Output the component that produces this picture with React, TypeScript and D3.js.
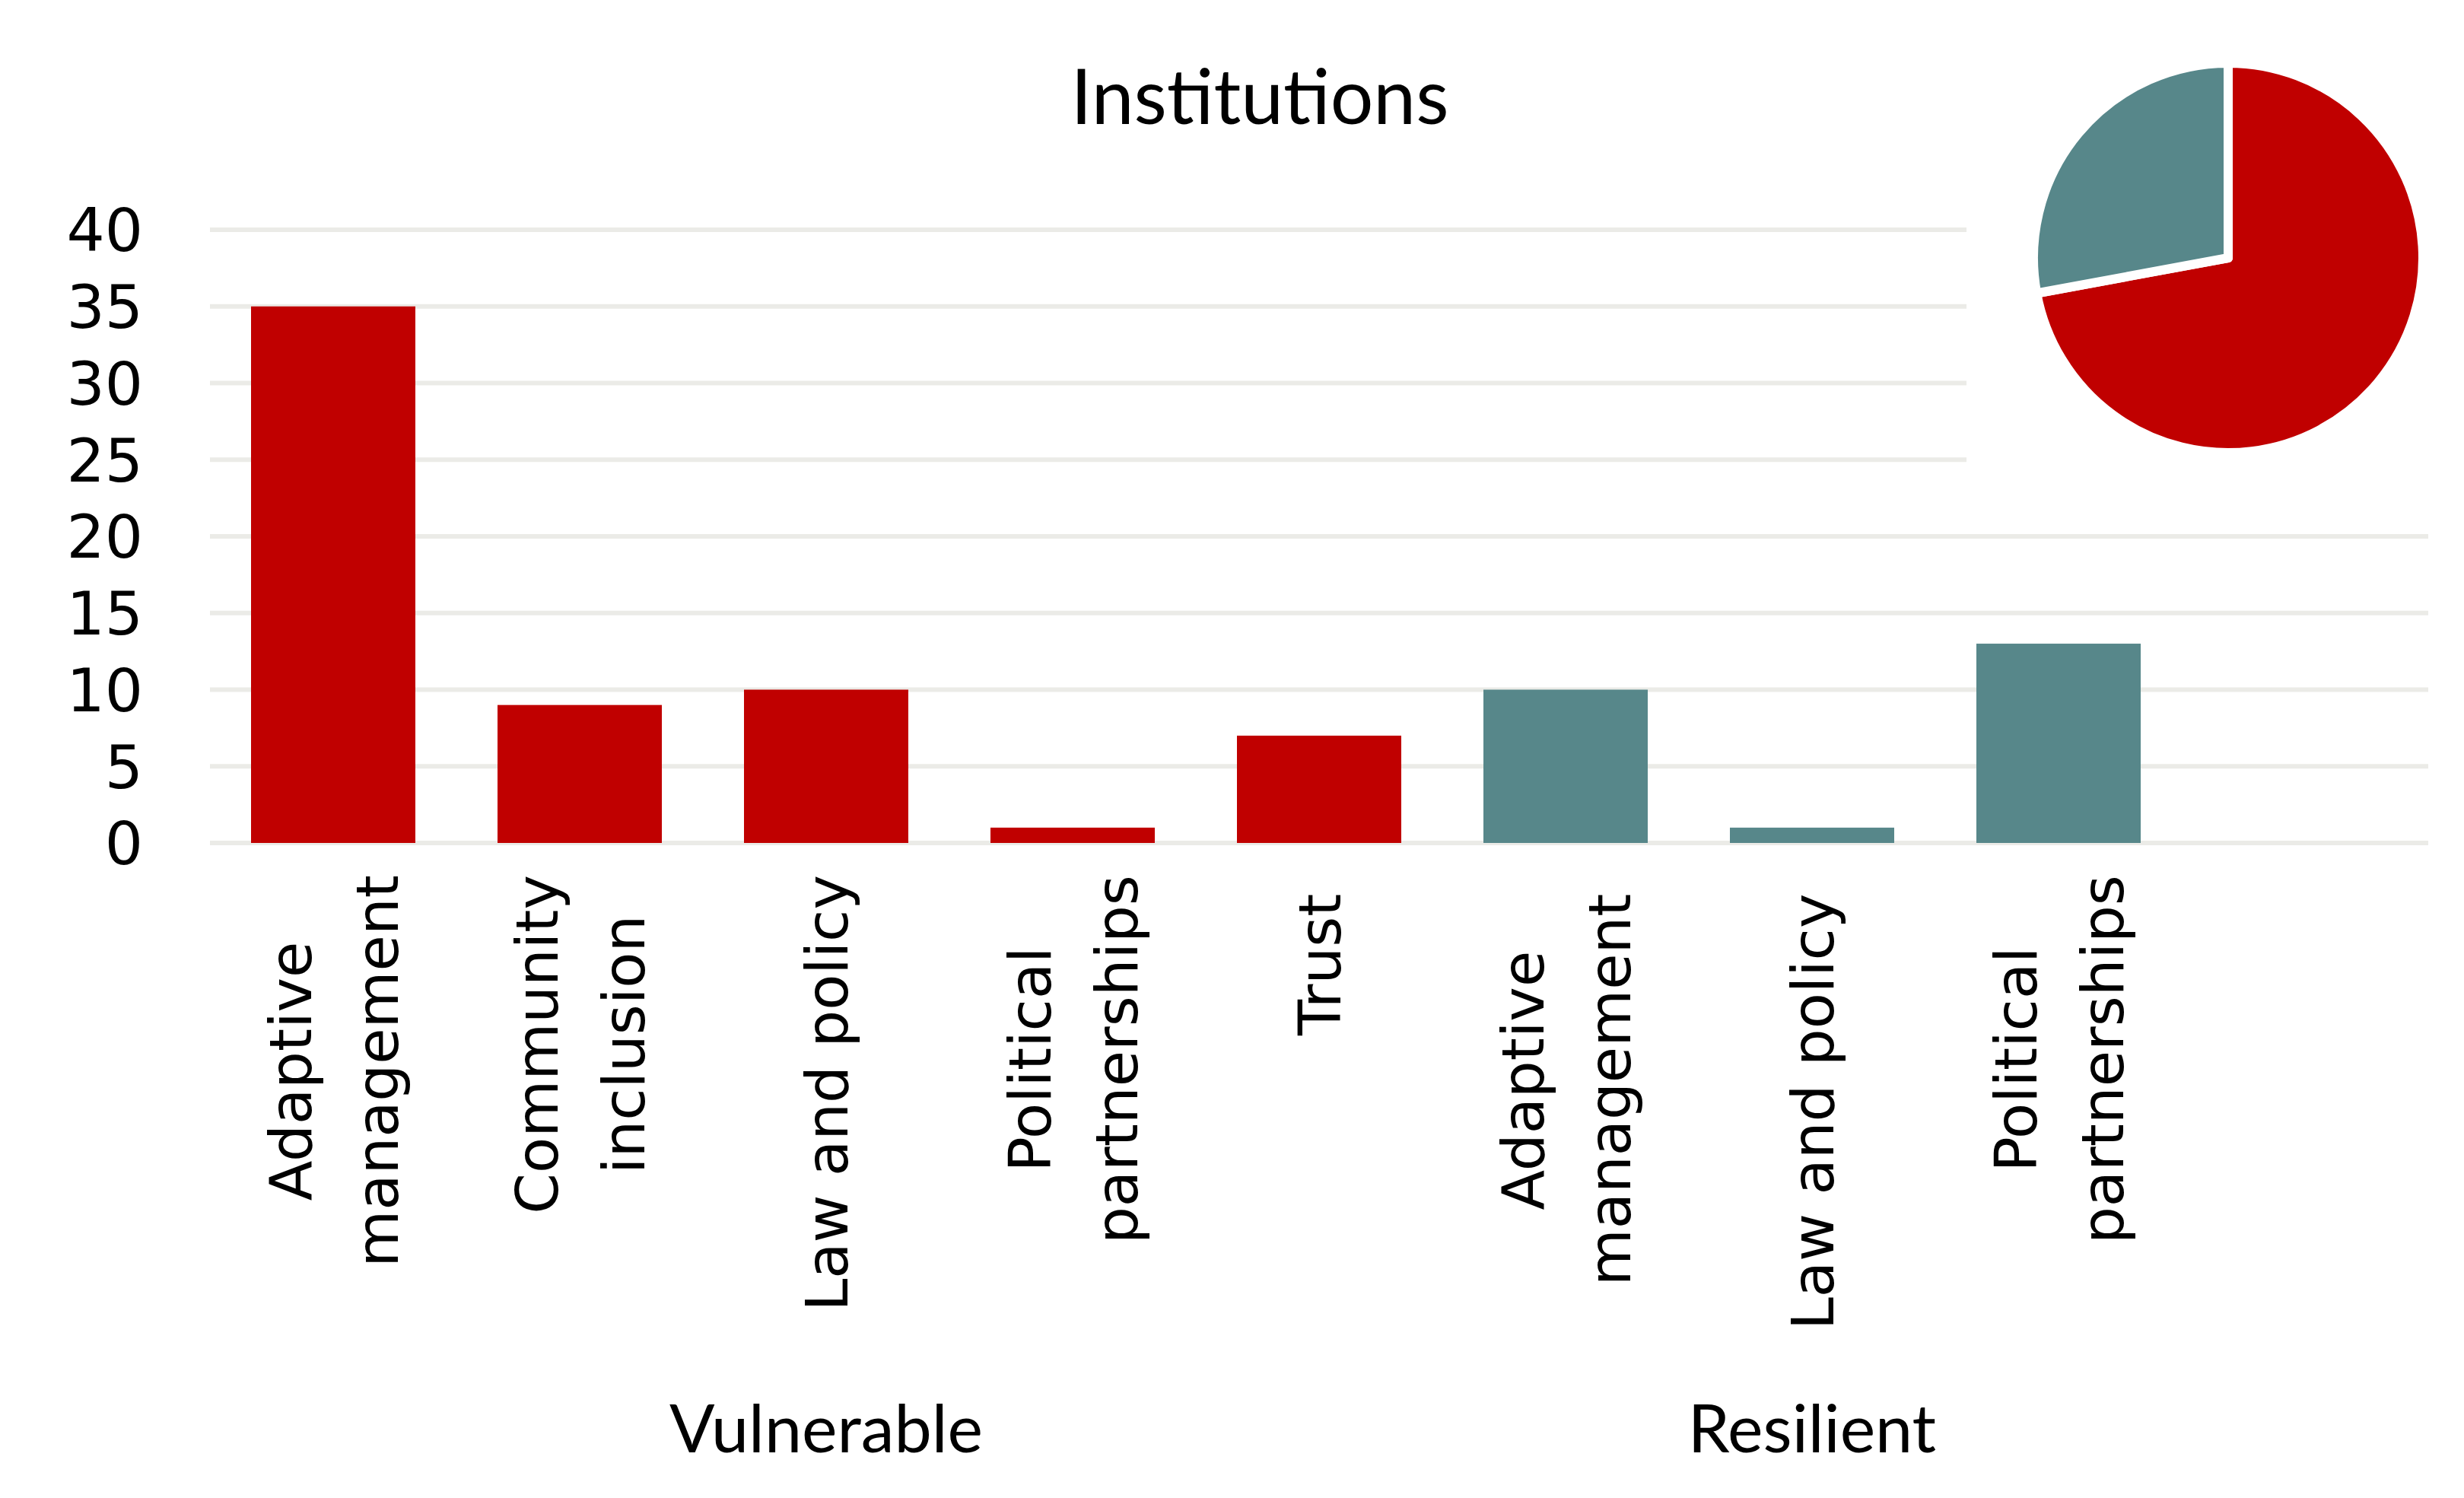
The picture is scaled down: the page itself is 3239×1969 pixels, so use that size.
import React, { useEffect, useRef } from 'react';
import * as d3 from 'd3';

const title = 'Institutions';
const groupNames = ['Vulnerable', 'Resilient'];
const vulnerableLabels: string[][] = [
  ['Adaptive', 'management'],
  ['Community', 'inclusion'],
  ['Law and policy'],
  ['Political', 'partnerships'],
  ['Trust '],
];
const vulnerableValues = [35, 9, 10, 1, 7];
const resilientLabels: string[][] = [
  ['Adaptive', 'management '],
  ['Law and policy '],
  ['Political', 'partnerships'],
];
const resilientValues = [10, 1, 13];
const yTicks = [0, 5, 10, 15, 20, 25, 30, 35, 40];
const emptySlots = 1;

const RED = '#C00000';
const TEAL = '#57878A';
const GRID = '#EBEBE7';

export default function App() {
  const ref = useRef<SVGSVGElement | null>(null);

  useEffect(() => {
    const svg = d3.select(ref.current);
    svg.selectAll('*').remove();
    const W = 3239, H = 1969;
    const left = 276, right = 3192, yTop = 302, yBottom = 1108;

    type Item = { group: number; lines: string[]; value: number; idx: number };
    const items: Item[] = [];
    vulnerableLabels.forEach((l, i) => items.push({ group: 0, lines: l, value: vulnerableValues[i], idx: items.length }));
    resilientLabels.forEach((l, i) => items.push({ group: 1, lines: l, value: resilientValues[i], idx: items.length }));
    const nSlots = items.length + emptySlots;

    const x = d3.scaleBand<number>()
      .domain(d3.range(nSlots))
      .range([left, right])
      .paddingInner(1 / 3)
      .paddingOuter(1 / 6);
    const y = d3.scaleLinear().domain([0, 40]).range([yBottom, yTop]);

    svg.append('rect').attr('width', W).attr('height', H).attr('fill', '#fff');

    // gridlines
    svg.append('g').selectAll('line').data(yTicks).join('line')
      .attr('x1', left).attr('x2', right)
      .attr('y1', d => y(d)).attr('y2', d => y(d))
      .attr('stroke', GRID).attr('stroke-width', 6);

    // y tick labels
    svg.append('g').selectAll('text').data(yTicks).join('text')
      .attr('x', 188).attr('y', d => y(d)).attr('dy', '0.36em')
      .attr('text-anchor', 'end')
      .attr('font-family', 'DejaVu Sans').attr('font-size', 79).attr('fill', '#000')
      .text(d => String(d));

    // bars
    svg.append('g').selectAll('rect').data(items).join('rect')
      .attr('x', d => x(d.idx)!).attr('width', x.bandwidth())
      .attr('y', d => y(d.value)).attr('height', d => y(0) - y(d.value))
      .attr('fill', d => (d.group === 0 ? RED : TEAL));

    // x labels
    const labelTop = 1150;
    const lineGap = 114;
    const lg = svg.append('g');
    items.forEach(it => {
      const cx = x(it.idx)! + x.bandwidth() / 2;
      const n = it.lines.length;
      const texts = it.lines.map(line =>
        lg.append('text')
          .attr('font-family', 'DejaVu Sans').attr('font-size', 77).attr('fill', '#000')
          .attr('text-anchor', 'middle').attr('dy', '0.36em')
          .style('white-space', 'pre')
          .text(line)
      );
      const lens = texts.map(t => (t.node() as SVGTextElement).getComputedTextLength());
      const maxLen = d3.max(lens) || 0;
      const cy = labelTop + maxLen / 2;
      texts.forEach((t, i) => {
        const lx = cx + (i - (n - 1) / 2) * lineGap;
        t.attr('transform', `translate(${lx},${cy}) rotate(-90)`);
      });
    });

    // group labels
    groupNames.forEach((g, gi) => {
      const members = items.filter(it => it.group === gi);
      const cx = d3.mean(members, m => x(m.idx)! + x.bandwidth() / 2)!;
      svg.append('text')
        .attr('x', cx).attr('y', 1909).attr('text-anchor', 'middle')
        .attr('font-family', 'Lato').attr('font-size', 88).attr('fill', '#000')
        .text(g);
    });

    // title
    svg.append('text')
      .attr('x', 1656).attr('y', 163).attr('text-anchor', 'middle')
      .attr('font-family', 'Lato').attr('font-size', 100).attr('fill', '#000')
      .text(title);

    // pie inset
    svg.append('rect').attr('x', 2585).attr('y', 0).attr('width', W - 2585).attr('height', 655).attr('fill', '#fff');
    const totals = [d3.sum(vulnerableValues), d3.sum(resilientValues)];
    const pie = d3.pie<number>().sort(null).value(d => d);
    const arc = d3.arc<d3.PieArcDatum<number>>().innerRadius(0).outerRadius(256);
    svg.append('g').attr('transform', 'translate(2929,339)')
      .selectAll('path').data(pie(totals)).join('path')
      .attr('d', arc)
      .attr('fill', (d, i) => (i === 0 ? RED : TEAL))
      .attr('stroke', '#fff').attr('stroke-width', 12).attr('stroke-linejoin', 'round');
  }, []);

  return (
    <svg
      ref={ref}
      width={3239}
      height={1969}
      viewBox="0 0 3239 1969"
      style={{ position: 'absolute', left: 0, top: 0, display: 'block' }}
    />
  );
}
